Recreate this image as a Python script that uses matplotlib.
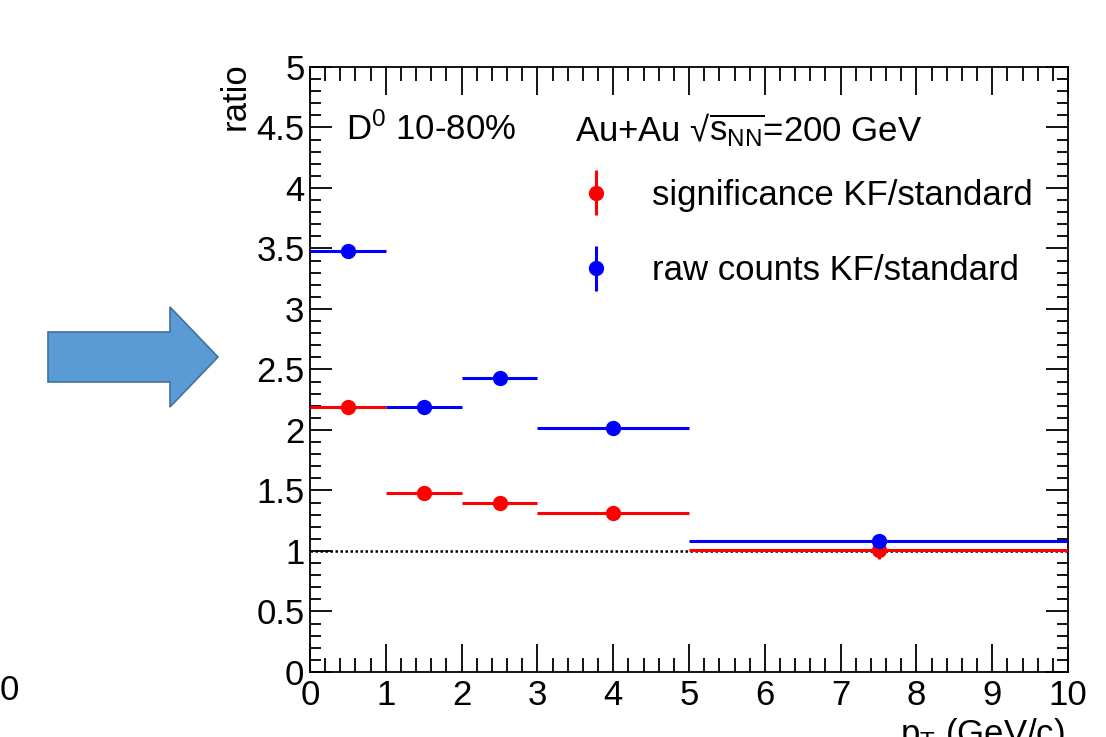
import matplotlib
matplotlib.use('Agg')
import matplotlib.pyplot as plt
import numpy as np
from matplotlib.patches import FancyArrow
from matplotlib.legend_handler import HandlerErrorbar
from matplotlib.container import ErrorbarContainer
from matplotlib.ticker import MultipleLocator

plt.rcParams['font.family'] = ['Liberation Sans', 'DejaVu Sans']
plt.rcParams['mathtext.fontset'] = 'custom'
plt.rcParams['mathtext.rm'] = 'Liberation Sans'
plt.rcParams['mathtext.it'] = 'Liberation Sans'

# pT bins (GeV/c)
bin_lo = [0, 1, 2, 3, 5]
bin_hi = [1, 2, 3, 5, 10]

# significance KF/standard
sig_ratio = [2.19, 1.48, 1.40, 1.31, 1.01]
sig_err = [0.02, 0.02, 0.02, 0.03, 0.08]

# raw counts KF/standard
raw_ratio = [3.48, 2.19, 2.43, 2.02, 1.08]
raw_err = [0.02, 0.02, 0.02, 0.02, 0.04]

lo = np.array(bin_lo, dtype=float)
hi = np.array(bin_hi, dtype=float)
xc = (lo + hi) / 2
xw = (hi - lo) / 2

fig = plt.figure(figsize=(11.06, 7.37), dpi=100)
ax = fig.add_axes([0.2803, 0.0882, 0.6854, 0.8209])

# reference line at ratio = 1
ax.axhline(1.0, color='black', ls=(0, (1, 1)), lw=1.8, zorder=1)

fs = 25
e1 = ax.errorbar(xc, sig_ratio, xerr=xw, yerr=sig_err, fmt='o', color='red',
                 ms=10, lw=2.2, capsize=0, zorder=3,
                 label='significance KF/standard')
e2 = ax.errorbar(xc, raw_ratio, xerr=xw, yerr=raw_err, fmt='o', color='blue',
                 ms=10, lw=2.2, capsize=0, zorder=4,
                 label='raw counts KF/standard')

ax.set_xlim(0, 10)
ax.set_ylim(0, 5)
ax.xaxis.set_major_locator(MultipleLocator(1))
ax.xaxis.set_minor_locator(MultipleLocator(0.2))
ax.yaxis.set_minor_locator(MultipleLocator(0.1))
ax.set_yticks(np.arange(0, 5.01, 0.5))
ax.set_yticklabels(['0', '0.5', '1', '1.5', '2', '2.5', '3', '3.5', '4', '4.5', '5'])
ax.tick_params(which='both', direction='in', top=True, right=True,
               labelsize=fs, width=1.3)
ax.tick_params(axis='y', which='major', length=16, pad=4)
ax.tick_params(axis='y', which='minor', length=8)
ax.tick_params(axis='x', which='major', length=20, pad=5)
ax.tick_params(axis='x', which='minor', length=10)
for sp in ax.spines.values():
    sp.set_linewidth(1.3)

ax.text(0.048, 0.896, r'D$^{0}$ 10-80%', transform=ax.transAxes,
        fontsize=fs, va='center', ha='left')
ax.text(0.35, 0.896, 'Au+Au √' + r'$\overline{\mathregular{s}_{\mathregular{NN}}}$' + '=200 GeV',
        transform=ax.transAxes, fontsize=fs, va='center', ha='left')

ax.legend(handles=[e1, e2], loc='upper left', bbox_to_anchor=(0.2996, 0.867),
          frameon=False, fontsize=fs, handlelength=1.6, handletextpad=0.81,
          labelspacing=1.23, borderpad=0.4,
          handler_map={ErrorbarContainer: HandlerErrorbar(xerr_size=0, yerr_size=0.65)})

fig.text(0.2125, 0.916, 'ratio', rotation=90, fontsize=fs, ha='center', va='top')
fig.text(0.963, 0.028, r'p$_{T}$ (GeV/c)', fontsize=fs, ha='right', va='top')

# stray label from neighbouring panel
fig.text(0.0, 0.063, '0', fontsize=fs, ha='left', va='center')

# blue arrow pointing at the panel
arrow = FancyArrow(0.0434, 0.5156, 0.1537, 0.0, width=0.0678,
                   head_width=0.1357, head_length=0.0434,
                   length_includes_head=True, transform=fig.transFigure,
                   facecolor='#5B9BD5', edgecolor='#41719C', lw=1.2)
fig.patches.append(arrow)

fig.savefig('out.png', dpi=100)
